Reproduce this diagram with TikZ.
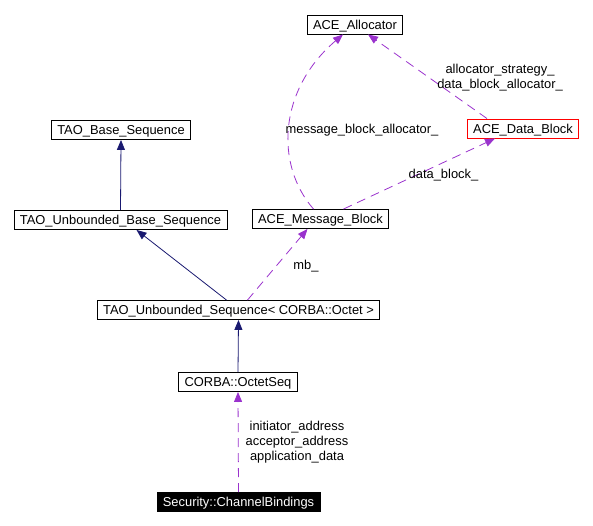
\documentclass[tikz,border=0pt]{standalone}
\usepackage{fontspec}
\setmainfont{Liberation Sans}
\usetikzlibrary{arrows.meta}
\definecolor{inhblue}{HTML}{191970}
\definecolor{usepurple}{HTML}{9A32CD}
\begin{document}
\begin{tikzpicture}[x=1pt,y=-1pt,
  cls/.style={draw,line width=0.9pt,inner xsep=5.8pt,inner ysep=0pt,minimum height=19pt,text height=9.2pt,text depth=0pt,font=\fontsize{12.9}{14}\selectfont},
  inherit/.style={draw=inhblue,line width=0.8pt,-{Triangle[length=10pt,width=8pt]}},
  usage/.style={draw=usepurple,line width=0.8pt,dash pattern=on 9pt off 6pt,-{Triangle[length=10pt,width=8pt]}},
  lbl/.style={font=\fontsize{12.9}{15}\selectfont,align=center}]
\useasboundingbox (0,0) rectangle (593,526);

% Classes
\node[cls] (alloc) at (355,24.5) {ACE\_Allocator};
\node[cls,draw=red] (datablk) at (523,128.5) {ACE\_Data\_Block};
\node[cls] (msgblk) at (320.5,219) {ACE\_Message\_Block};
\node[cls] (baseseq) at (121,130) {TAO\_Base\_Sequence};
\node[cls] (ubaseseq) at (120.5,220) {TAO\_Unbounded\_Base\_Sequence};
\node[cls] (useq) at (238.5,310) {TAO\_Unbounded\_Sequence< CORBA::Octet >};
\node[cls] (octetseq) at (238,382) {CORBA::OctetSeq};
\node[cls,fill=black,text=white] (chanbind) at (238.5,502) {Security::ChannelBindings};

% Inheritance
\draw[inherit] (ubaseseq.north) -- (baseseq.south);
\draw[inherit] ([xshift=-12pt]useq.north) -- ([xshift=16pt]ubaseseq.south);
\draw[inherit] (octetseq.north) -- (useq.south);

% Usage
\draw[usage] ([xshift=9pt]useq.north) -- ([xshift=-13pt]msgblk.south);
\draw[usage] (chanbind.north) -- (octetseq.south);
\draw[usage] ([xshift=-7pt]msgblk.north) .. controls (275,165) and (278,90) .. ([xshift=-12pt]alloc.south);
\draw[usage] ([xshift=23pt]msgblk.north) -- ([xshift=-28pt]datablk.south);
\draw[usage] ([xshift=-36pt]datablk.north) -- ([xshift=13pt]alloc.south);

% Labels
\node[lbl] (lmb) at (306,266) {mb\_};
\node[lbl] (lchan) at (297,442) {initiator\_address\\acceptor\_address\\application\_data};
\node[lbl] (lmballoc) at (362,130) {message\_block\_allocator\_};
\node[lbl] (ldata) at (443.5,175) {data\_block\_};
\node[lbl] (lalloc) at (500,78) {allocator\_strategy\_\\data\_block\_allocator\_};
\end{tikzpicture}
\end{document}
